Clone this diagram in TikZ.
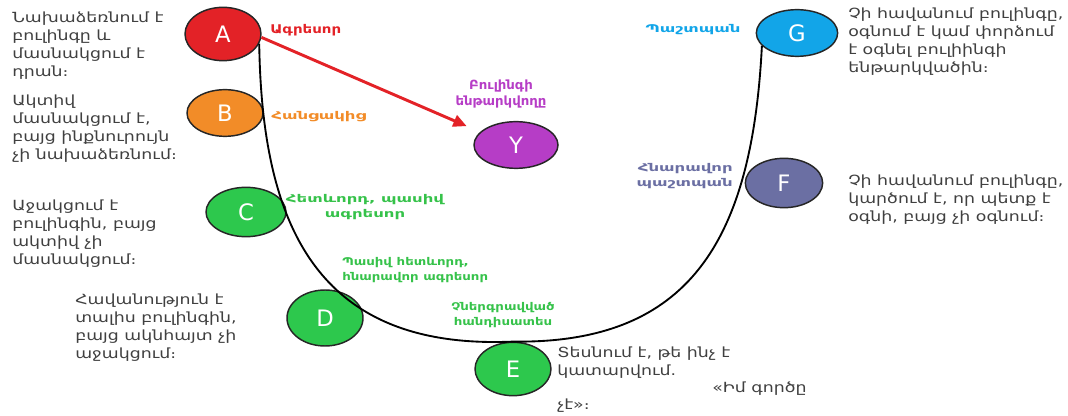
\documentclass[tikz,border=0pt]{standalone}
\usepackage{fontspec}
\setmainfont{DejaVu Sans}
\newfontfamily\descfont{DejaVu Sans}[FakeStretch=1.24]
\newfontfamily\lblnarrow{DejaVu Sans}[FakeStretch=1.05]
\newfontfamily\lblmid{DejaVu Sans}[FakeStretch=1.25]
\newfontfamily\lblwide{DejaVu Sans}[FakeStretch=1.55]
\usetikzlibrary{shapes.geometric,arrows.meta,positioning}

\definecolor{aggred}{HTML}{E32227}
\definecolor{helporange}{HTML}{F28C28}
\definecolor{follgreen}{HTML}{2DC84D}
\definecolor{lblgreen}{HTML}{36C24A}
\definecolor{defslate}{HTML}{6B6FA3}
\definecolor{defblue}{HTML}{12A5E8}
\definecolor{victpurple}{HTML}{B63DC6}
\definecolor{txtgray}{HTML}{404040}

\tikzset{
	circ/.style={draw=black!85,line width=1.1pt,ellipse,minimum width=57pt,minimum height=39pt,inner sep=0pt,text=white,font=\fontsize{17}{17}\selectfont},
	desc/.style={align=left,inner sep=0pt,anchor=north west,text=txtgray,font=\descfont\fontsize{10.5}{13.5}\selectfont},
	lbl/.style={inner sep=0pt,font=\fontsize{8}{11}\selectfont\bfseries},
}

\begin{document}
\begin{tikzpicture}[x=0.75pt,y=-0.75pt]

	\useasboundingbox (0,0) rectangle (1068,416);

	\begin{scope}[every node/.style=circ]
		\node[fill=aggred,minimum height=40pt] (A) at (223,34) {A};
		\node[fill=helporange,minimum height=35pt] (B) at (225,113) {B};
		\node[fill=follgreen,minimum width=60pt,minimum height=37pt] (C) at (246,212) {C};
		\node[fill=follgreen,minimum height=42pt] (D) at (325,318) {D};
		\node[fill=follgreen,minimum height=40pt] (E) at (513,369) {E};
		\node[fill=defslate,minimum width=58pt,minimum height=37pt] (F) at (784,183) {F};
		\node[fill=defblue,minimum width=61pt,minimum height=35pt] (G) at (797,33) {G};
		\node[fill=victpurple,minimum width=63pt,minimum height=35pt] (Y) at (516,145) {Y};
	\end{scope}

	\draw[line width=1.4pt] (A.-15) .. controls (262,230) and (320,350) .. (E.north)
		.. controls (690,344) and (752,240) .. (G.200);
	\draw[aggred,line width=2.2pt,-{Triangle[length=10pt,width=9pt]},shorten >=11pt] (A.-5) -- (Y.160);

	\node[lbl,text=aggred,anchor=west,font=\lblmid\fontsize{9}{11}\selectfont\bfseries] (alab) at (270,30) {Ագրեսոր};
	\node[lbl,text=helporange,anchor=west,font=\lblwide\fontsize{8}{11}\selectfont\bfseries] (blab) at (271,117) {Հանցակից};
	\node[lbl,text=lblgreen,align=center,font=\lblwide\fontsize{8}{11}\selectfont\bfseries] (clab) at (365,207) {Հետևորդ, պասիվ\\ագրեսոր};
	\node[lbl,text=lblgreen,align=left,anchor=west,font=\lblmid\fontsize{8}{11}\selectfont\bfseries] (dlab) at (342,270) {Պասիվ հետևորդ,\\հնարավոր ագրեսոր};
	\node[lbl,text=lblgreen,align=center,font=\lblmid\fontsize{8}{11}\selectfont\bfseries] (elab) at (503,315) {Չներգրավված\\հանդիսատես};
	\node[lbl,text=defslate,align=right,anchor=east,font=\lblwide\fontsize{8}{11}\selectfont\bfseries] (flab) at (733,176) {Հնարավոր\\պաշտպան};
	\node[lbl,text=defblue,font=\lblwide\fontsize{8}{11}\selectfont\bfseries] (glab) at (693,30) {Պաշտպան};
	\node[lbl,text=victpurple,align=center,font=\lblnarrow\fontsize{9.5}{11.5}\selectfont\bfseries] (ylab) at (501,94) {Բուլինգի\\ենթարկվողը};

	\node[desc] (adesc) at (12,12) {Նախաձեռնում է\\բուլինգը և\\մասնակցում է\\դրան։};
	\node[desc] (bdesc) at (12,95) {Ակտիվ\\մասնակցում է,\\բայց ինքնուրույն\\չի նախաձեռնում։};
	\node[desc] (cdesc) at (12,200) {Աջակցում է\\բուլինգին, բայց\\ակտիվ չի\\մասնակցում։};
	\node[desc] (ddesc) at (75,294) {Հավանություն է\\տալիս բուլինգին,\\բայց ակնհայտ չի\\աջակցում։};
	\node[desc] (edesc) at (557,347) {Տեսնում է, թե ինչ է\\կատարվում.};
	\node[desc] (edesc2) at (712,382) {«Իմ գործը};
	\node[desc] (edesc3) at (557,399) {չէ»։};
	\node[desc] (fdesc) at (848,175) {Չի հավանում բուլինգը,\\կարծում է, որ պետք է\\օգնի, բայց չի օգնում։};
	\node[desc] (gdesc) at (848,8) {Չի հավանում բուլինգը,\\օգնում է կամ փորձում\\է օգնել բուլիինգի\\ենթարկվածին։};

\end{tikzpicture}
\end{document}
